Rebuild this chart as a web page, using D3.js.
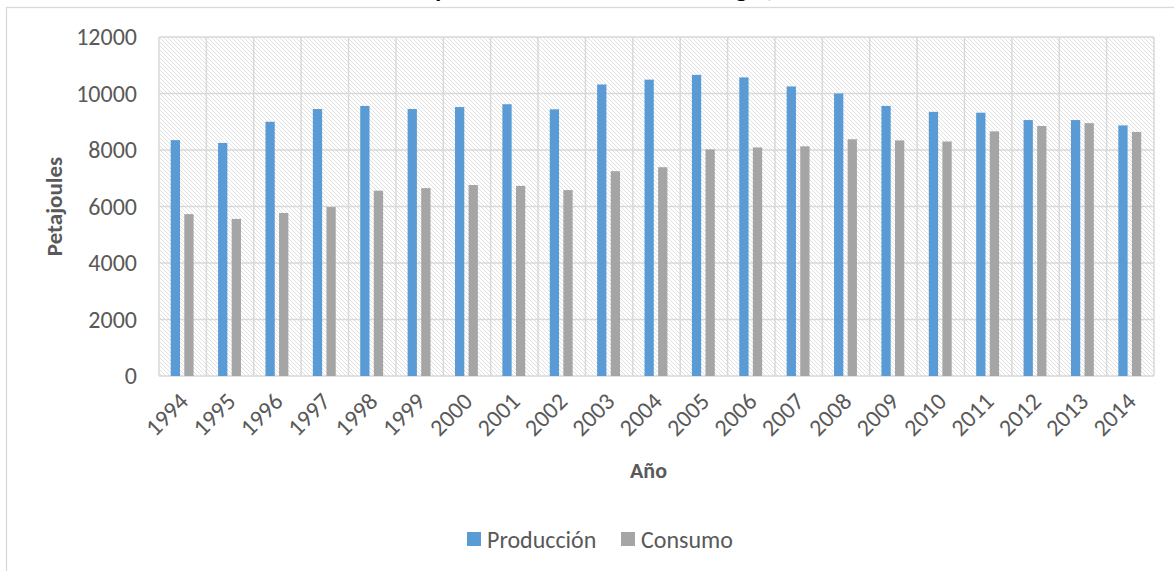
<!DOCTYPE html>
<meta charset="utf-8">
<style>
  body {margin: 0; background: #fff; font-family: Carlito, Lato, "Open Sans", sans-serif;}
  svg text {fill: #595959;}
</style>
<svg width="1174" height="571"></svg>
<script src="https://cdnjs.cloudflare.com/ajax/libs/d3/7.8.5/d3.min.js"></script>
<script>
  /**
   * ----------------------------------------------------------------------------------------------
   * data
   * ----------------------------------------------------------------------------------------------
   */
  const years = ["1994", "1995", "1996", "1997", "1998", "1999", "2000", "2001", "2002", "2003", "2004",
                 "2005", "2006", "2007", "2008", "2009", "2010", "2011", "2012", "2013", "2014"];
  const produccion = [8350, 8250, 9000, 9450, 9560, 9450, 9520, 9620, 9440, 10320, 10490,
                      10660, 10570, 10250, 10000, 9560, 9350, 9320, 9060, 9060, 8870];
  const consumo = [5730, 5560, 5770, 5980, 6560, 6650, 6760, 6730, 6580, 7250, 7390,
                   8020, 8090, 8130, 8380, 8340, 8300, 8660, 8850, 8950, 8640];
  const yTicks = [0, 2000, 4000, 6000, 8000, 10000, 12000];
  const seriesNames = ["Producción", "Consumo"];
  const colors = ["#5b9bd5", "#a5a5a5"];

  /**
   *-----------------------------------------------------------------------------------------------
   * layout
   *-----------------------------------------------------------------------------------------------
   **/
  var width = 1174, height = 571;
  var margin = {left: 159, right: 20, top: 37, bottom: 195};
  var plotW = width - margin.left - margin.right;
  var plotH = height - margin.top - margin.bottom;

  var svg = d3.select("svg");

  // hatch pattern of the plot area
  var defs = svg.append("defs");
  defs.append("pattern")
      .attr("id", "hatch")
      .attr("patternUnits", "userSpaceOnUse")
      .attr("width", 4).attr("height", 4)
    .append("path")
      .attr("d", "M-1,-1 L5,5 M-1,3 L1,5 M3,-1 L5,1")
      .attr("stroke", "#dcdcdc")
      .attr("stroke-width", 0.9);

  // chart border
  svg.append("rect")
      .attr("x", 6.5).attr("y", 7.5)
      .attr("width", width + 10).attr("height", height + 10)
      .attr("fill", "none")
      .attr("stroke", "#d9d9d9")
      .attr("stroke-width", 1.3);

  // title, mostly cropped away at the top
  svg.append("text")
      .attr("x", 600).attr("y", -3)
      .attr("text-anchor", "middle")
      .style("font-size", "26px")
      .style("font-weight", "bold")
      .style("fill", "#000")
      .text("Producción y consumo nacional de energía, 1994-2014");

  /**
   *----------------------------------------------------------------------------
   * scales
   *----------------------------------------------------------------------------
   **/
  var x = d3.scaleBand().domain(years).range([0, plotW]);
  var y = d3.scaleLinear().domain([0, 12000]).range([plotH, 0]);
  var bw = x.bandwidth();
  var barW = bw * 0.196;
  var offsets = [bw * 0.247, bw * 0.534];

  var g = svg.append("g").attr("transform", "translate(" + margin.left + "," + margin.top + ")");

  g.append("rect")
      .attr("width", plotW).attr("height", plotH)
      .attr("fill", "url(#hatch)");

  /**------------------------------------------------------------------------
   * grid
   **----------------------------------------------------------------------**/
  g.append("g")
      .selectAll("line")
      .data(yTicks)
      .enter().append("line")
        .attr("x1", 0).attr("x2", plotW)
        .attr("y1", function(d) { return y(d); })
        .attr("y2", function(d) { return y(d); })
        .attr("stroke", "#d9d9d9")
        .attr("stroke-width", 1.5);

  g.append("g")
      .selectAll("line")
      .data(years.concat(["end"]))
      .enter().append("line")
        .attr("x1", function(d, i) { return i * bw; })
        .attr("x2", function(d, i) { return i * bw; })
        .attr("y1", 0).attr("y2", plotH)
        .attr("stroke", "#d9d9d9")
        .attr("stroke-width", 1.5);

  /**------------------------------------------------------------------------
   * bars
   **----------------------------------------------------------------------**/
  [produccion, consumo].forEach(function(values, s) {
    g.append("g")
        .attr("fill", colors[s])
        .selectAll("rect")
        .data(values)
        .enter().append("rect")
          .attr("x", function(d, i) { return x(years[i]) + offsets[s]; })
          .attr("y", function(d) { return y(d); })
          .attr("width", barW)
          .attr("height", function(d) { return plotH - y(d); });
  });

  /**------------------------------------------------------------------------
   * axes
   **----------------------------------------------------------------------**/
  var yAxis = g.append("g")
      .call(d3.axisLeft(y).tickValues(yTicks).tickSize(0).tickPadding(22).tickFormat(d3.format("d")));
  yAxis.select(".domain").remove();
  yAxis.selectAll("text")
      .style("font-size", "24px")
      .style("font-family", "Carlito, Lato, sans-serif")
      .attr("fill", "#595959");

  var xAxis = g.append("g")
      .attr("transform", "translate(0," + plotH + ")")
      .call(d3.axisBottom(x).tickSize(0).tickPadding(0));
  xAxis.select(".domain").remove();
  xAxis.selectAll("text")
      .style("font-size", "24px")
      .style("font-family", "Carlito, Lato, sans-serif")
      .attr("fill", "#595959")
      .attr("text-anchor", "end")
      .attr("dy", "0")
      .attr("y", 0)
      .attr("transform", "translate(7,27) rotate(-45)");

  /**------------------------------------------------------------------------
   * axis titles
   **----------------------------------------------------------------------**/
  svg.append("text")
      .attr("transform", "translate(62," + (margin.top + plotH / 2) + ") rotate(-90)")
      .attr("text-anchor", "middle")
      .style("font-size", "23px")
      .style("font-weight", "bold")
      .text("Petajoules");

  svg.append("text")
      .attr("x", margin.left + plotW / 2 - 8).attr("y", 478)
      .attr("text-anchor", "middle")
      .style("font-size", "22px")
      .style("font-weight", "bold")
      .text("Año");

  /**------------------------------------------------------------------------
   * legend
   **----------------------------------------------------------------------**/
  var legendX = [467, 621];
  var legend = svg.append("g")
      .selectAll("g")
      .data(seriesNames)
      .enter().append("g")
        .attr("transform", function(d, i) { return "translate(" + legendX[i] + ",532)"; });
  legend.append("rect")
      .attr("width", 14).attr("height", 14)
      .attr("fill", function(d, i) { return colors[i]; });
  legend.append("text")
      .attr("x", 20).attr("y", 16)
      .style("font-size", "24px")
      .text(function(d) { return d; });
</script>
